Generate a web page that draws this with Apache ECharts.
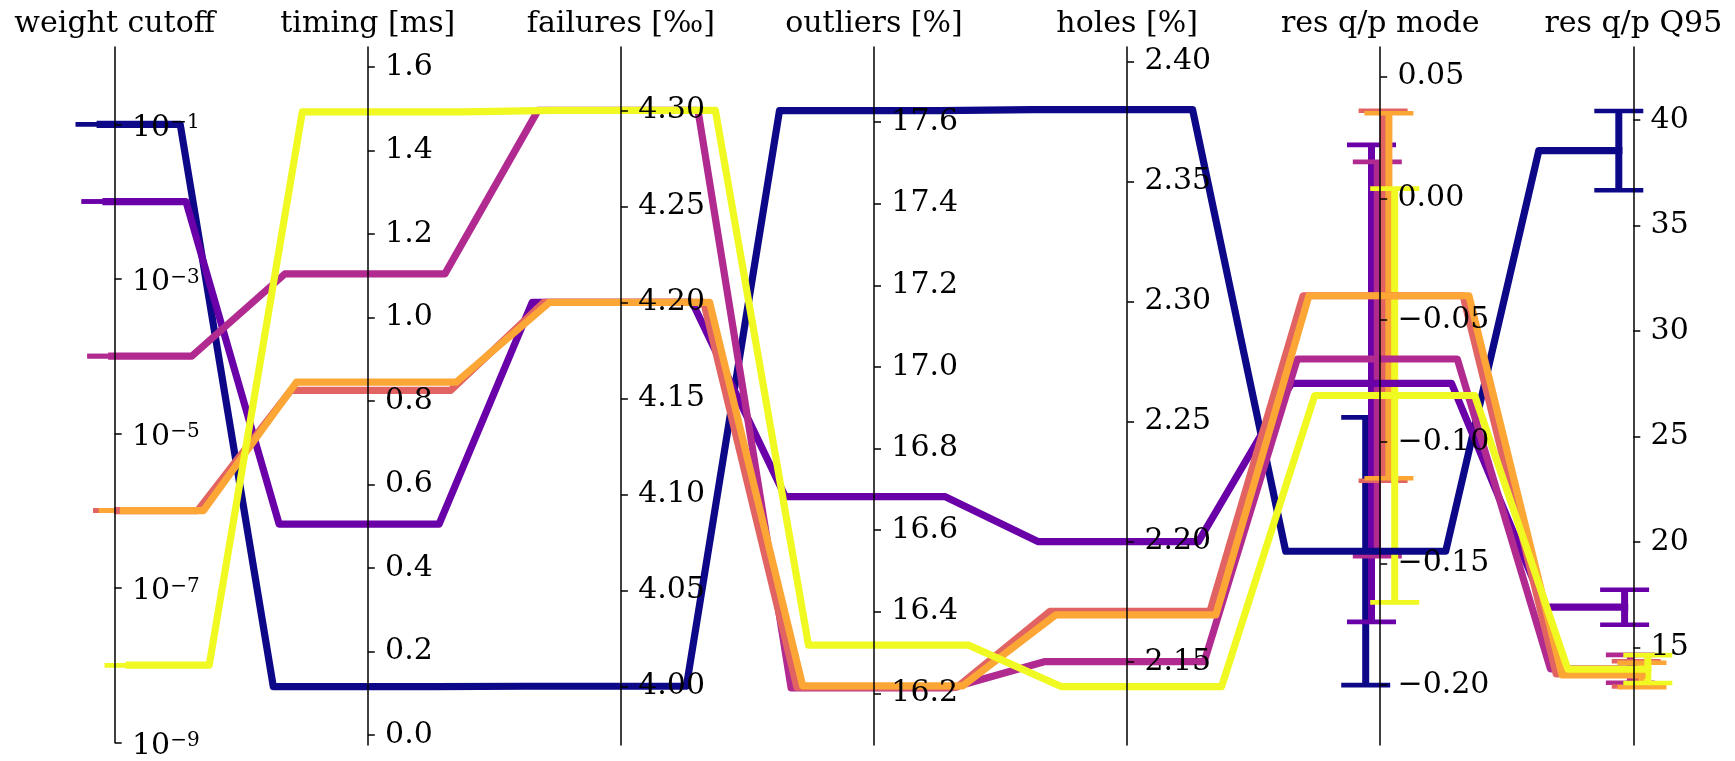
<!DOCTYPE html>
<html><head><meta charset="utf-8">
<script src="https://cdn.jsdelivr.net/npm/echarts@6/dist/echarts.min.js"></script>
<style>html,body{margin:0;padding:0;background:#fff;}#c{width:1735px;height:761px;}</style>
</head><body><div id="c"></div>
<script>
// ---------- data ----------
const axisNames = ['weight cutoff', 'timing [ms]', 'failures [‰]', 'outliers [%]', 'holes [%]', 'res q/p mode', 'res q/p Q95'];
const seriesNames = ['run 1', 'run 2', 'run 3', 'run 4', 'run 5', 'run 6'];
const seriesColors = ['#0d0887', '#6a00a8', '#b12a90', '#e16462', '#fca636', '#f0f921'];

const weightCutoff = [1e-1, 1e-2, 1e-4, 1e-6, 1e-6, 1e-8];
const timingMs = [0.116, 0.505, 1.104, 0.825, 0.845, 1.492];
const failuresPermille = [4.000, 4.200, 4.300, 4.200, 4.200, 4.300];
const outliersPct = [17.628, 16.682, 16.213, 16.215, 16.218, 16.318];
const holesPct = [2.380, 2.200, 2.150, 2.171, 2.1695, 2.1396];
const resMode = [-0.145, -0.076, -0.066, -0.040, -0.040, -0.081];
const resModeErr = [0.055, 0.098, 0.081, 0.076, 0.075, 0.085];
const resQ95 = [38.55, 16.91, 13.99, 13.75, 13.70, 13.98];
const resQ95Err = [1.88, 0.83, 0.66, 0.60, 0.58, 0.66];

const axisMin = [1e-9, -0.0239, 3.9694, 16.0733, 2.1153, -0.2246, 10.38];
const axisMax = [1, 1.6472, 4.3330, 17.784, 2.4061, 0.0622, 43.46];

const tickWeight = [1e-9, 1e-7, 1e-5, 1e-3, 1e-1];
const tickTiming = [0, 0.2, 0.4, 0.6, 0.8, 1.0, 1.2, 1.4, 1.6];
const tickFailures = [4.00, 4.05, 4.10, 4.15, 4.20, 4.25, 4.30];
const tickOutliers = [16.2, 16.4, 16.6, 16.8, 17.0, 17.2, 17.4, 17.6];
const tickHoles = [2.15, 2.20, 2.25, 2.30, 2.35, 2.40];
const tickMode = [-0.20, -0.15, -0.10, -0.05, 0.00, 0.05];
const tickQ95 = [15, 20, 25, 30, 35, 40];
const tickDecimals = [null, 1, 2, 1, 2, 2, 0];

// ---------- layout ----------
const FONT = 'DejaVu Serif';
const AX0 = 114.7, STEP = 253.1, TOP = 47, BOTTOM = 16, W = 1735;
const PLATEAU = 80 / STEP, SHIFT = 5.8 / STEP, CAP = 24.5;
const LINE_W = 7.2, BAR_W = 7, CAP_W = 4.6;

const values = [weightCutoff, timingMs, failuresPermille, outliersPct, holesPct, resMode, resQ95];
const errors = [null, null, null, null, null, resModeErr, resQ95Err];
const ticks = [tickWeight, tickTiming, tickFailures, tickOutliers, tickHoles, tickMode, tickQ95];
const nAx = axisNames.length;

const chart = echarts.init(document.getElementById('c'), null, {renderer: 'canvas'});

const grids = [], xAxes = [], yAxes = [];
for (let i = 0; i < nAx; i++) {
  grids.push({left: AX0 + i * STEP, top: TOP, bottom: BOTTOM, width: 10});
  xAxes.push({gridIndex: i, type: 'value', show: false, min: 0, max: 1});
  const isLog = i === 0;
  const labelCfg = {
    show: true, inside: true, margin: 17.3, color: '#000',
    fontFamily: FONT, fontSize: 30, customValues: ticks[i]
  };
  if (isLog) {
    labelCfg.padding = [7, 0, 0, 0];
    labelCfg.formatter = v => {
      const e = Math.round(Math.log10(v));
      return '{b|10}{s|' + (e < 0 ? '\u2212' : '') + Math.abs(e) + '}';
    };
    labelCfg.rich = {
      b: {fontFamily: FONT, fontSize: 30, color: '#000'},
      s: {fontFamily: FONT, fontSize: 20, lineHeight: 16, verticalAlign: 'top', color: '#000'}
    };
  } else {
    labelCfg.padding = [6, 0, 0, 0];
    const d = tickDecimals[i];
    labelCfg.formatter = v => Number(v).toFixed(d).replace('-', '\u2212');
  }
  yAxes.push({
    gridIndex: i, type: isLog ? 'log' : 'value', logBase: 10,
    min: axisMin[i], max: axisMax[i], position: 'left', z: 10,
    name: axisNames[i], nameLocation: 'end', nameGap: 8,
    nameTextStyle: {fontFamily: FONT, fontSize: 30, color: '#000'},
    axisLine: {show: true, onZero: false, lineStyle: {color: '#000', width: 1.5}},
    axisTick: {show: true, inside: true, length: 7, lineStyle: {color: '#000', width: 1.5}, customValues: ticks[i]},
    axisLabel: labelCfg,
    splitLine: {show: false}
  });
}
// hidden overlay grid for the polylines
grids.push({left: 0, right: 0, top: TOP, bottom: BOTTOM});
xAxes.push({gridIndex: nAx, type: 'value', show: false, min: -AX0 / STEP, max: (W - AX0) / STEP});
yAxes.push({gridIndex: nAx, type: 'value', show: false, min: 0, max: 1});

chart.setOption({animation: false, grid: grids, xAxis: xAxes, yAxis: yAxes, series: []});

function toNorm(i, v) {
  const py = chart.convertToPixel({yAxisIndex: i}, v);
  return chart.convertFromPixel({yAxisIndex: nAx}, py);
}

const series = [];
for (let k = 0; k < seriesNames.length; k++) {
  const off = (k - (seriesNames.length - 1) / 2) * SHIFT;
  const pts = [], bars = [];
  for (let i = 0; i < nAx; i++) {
    const v = values[i][k];
    const e = errors[i] ? errors[i][k] : 0;
    const y = toNorm(i, v);
    const xc = i + off;
    if (i > 0) pts.push([xc - PLATEAU, y]);
    if (i < nAx - 1) pts.push([xc + PLATEAU, y]); else pts.push([xc, y]);
    if (i === 0) pts.unshift([xc, y]);
    bars.push([xc, toNorm(i, v - e), toNorm(i, v + e)]);
  }
  const color = seriesColors[k];
  series.push({
    name: seriesNames[k], type: 'line', xAxisIndex: nAx, yAxisIndex: nAx,
    data: pts, symbol: 'none', showSymbol: false, silent: true, clip: false,
    lineStyle: {color: color, width: LINE_W, cap: 'square', join: 'round'}
  });
  series.push({
    name: seriesNames[k] + ' err', type: 'custom', xAxisIndex: nAx, yAxisIndex: nAx,
    silent: true, clip: false, encode: {x: 0, y: 1}, data: bars,
    renderItem: (params, api) => {
      const a = api.coord([api.value(0), api.value(1)]);
      const b = api.coord([api.value(0), api.value(2)]);
      return {type: 'group', children: [
        {type: 'line', shape: {x1: a[0], y1: a[1], x2: b[0], y2: b[1]}, style: {stroke: color, lineWidth: BAR_W}},
        {type: 'line', shape: {x1: a[0] - CAP, y1: a[1], x2: a[0] + CAP, y2: a[1]}, style: {stroke: color, lineWidth: CAP_W}},
        {type: 'line', shape: {x1: b[0] - CAP, y1: b[1], x2: b[0] + CAP, y2: b[1]}, style: {stroke: color, lineWidth: CAP_W}}
      ]};
    }
  });
}
chart.setOption({series: series});
</script>
</body></html>
